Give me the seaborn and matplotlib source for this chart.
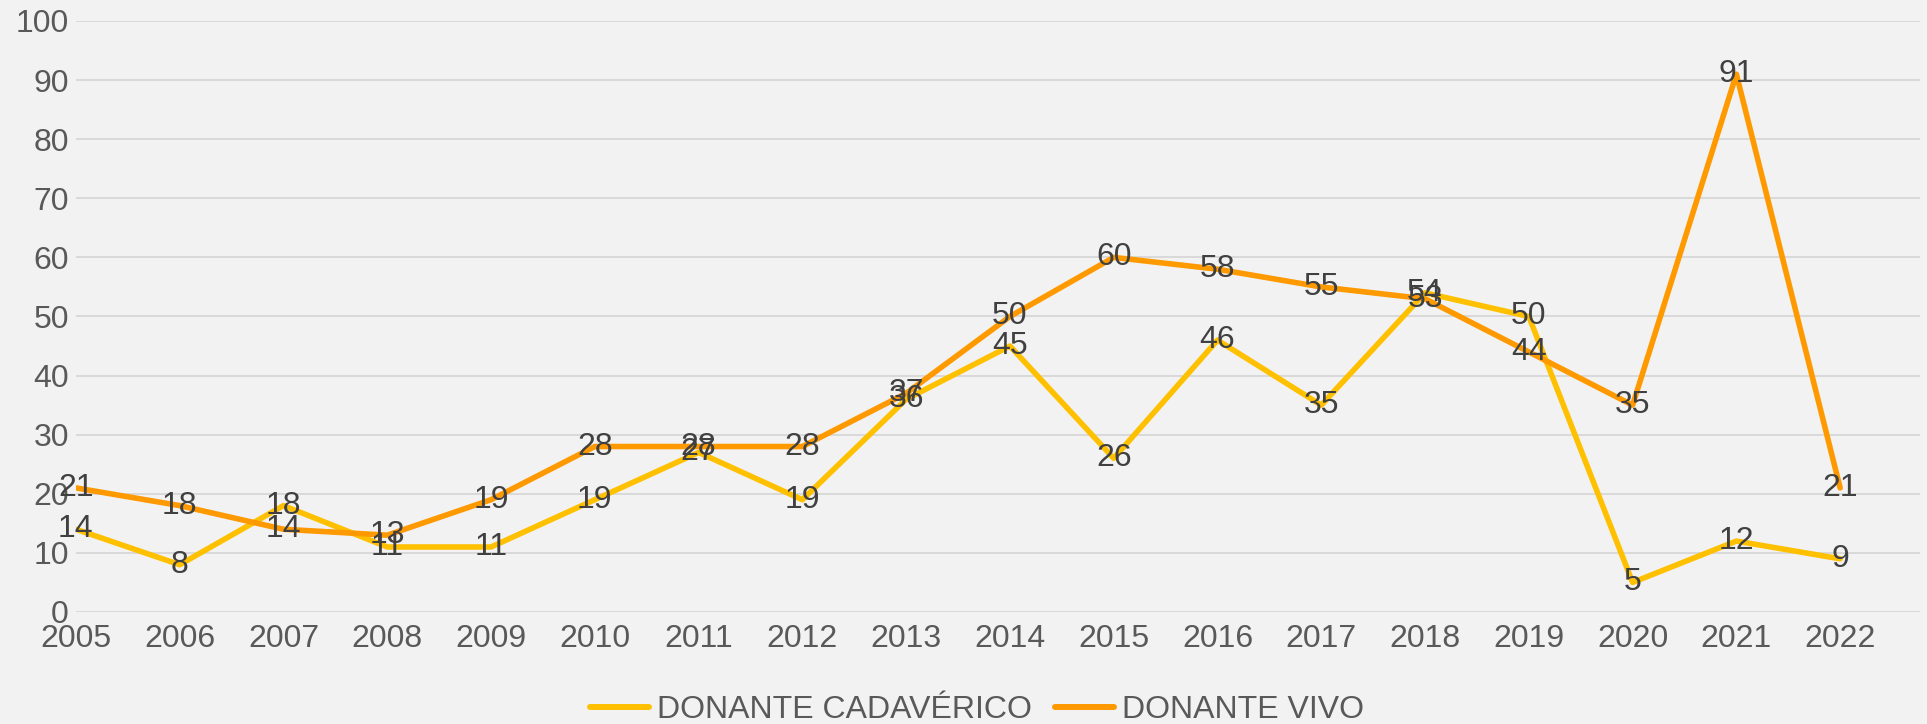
import numpy as np
import pandas as pd
import matplotlib
matplotlib.use('Agg')
import matplotlib.pyplot as plt
import seaborn as sns

years = list(range(2005, 2023))
cadaverico = [14, 8, 18, 11, 11, 19, 27, 19, 36, 45, 26, 46, 35, 54, 50, 5, 12, 9]
vivo = [21, 18, 14, 13, 19, 28, 28, 28, 37, 50, 60, 58, 55, 53, 44, 35, 91, 21]
series_names = ['DONANTE CADAVÉRICO', 'DONANTE VIVO']
colors = ['#FFC000', '#FF9900']

df = pd.DataFrame({
    'year': years * 2,
    'value': cadaverico + vivo,
    'serie': [series_names[0]] * len(years) + [series_names[1]] * len(years),
})

sns.set_style('white')
plt.rcParams['font.family'] = ['Liberation Sans', 'DejaVu Sans']
fs = 23

fig = plt.figure(figsize=(19.27, 7.24), dpi=100, facecolor='#F2F2F2')
ax = fig.add_axes([0.0394, 0.1547, 0.957, 0.8163])
ax.set_facecolor('#F2F2F2')

sns.lineplot(data=df, x='year', y='value', hue='serie', hue_order=series_names,
             palette=colors, linewidth=4.0, ax=ax, legend=True, zorder=3)

# data labels, centred on the points (like excel "center")
for vals in [cadaverico, vivo]:
    for x, v in zip(years, vals):
        ax.text(x, v, str(v), ha='center', va='center', fontsize=fs,
                color='#404040', zorder=5)

ax.set_xlim(2005, 2022.77)
ax.set_ylim(0, 100)
ax.set_yticks(range(0, 101, 10))
ax.set_xticks(years)
ax.set_xticklabels([str(y) for y in years])
ax.tick_params(axis='both', length=0, labelsize=fs, labelcolor='#595959')
ax.tick_params(axis='y', pad=5)
ax.tick_params(axis='x', pad=9)
ax.grid(axis='y', color='#D9D9D9', linewidth=1.4, zorder=0)
ax.set_axisbelow(True)
for s in ax.spines.values():
    s.set_visible(False)
ax.set_xlabel('')
ax.set_ylabel('')

leg = ax.legend(loc='center', bbox_to_anchor=(0.507, 0.019), bbox_transform=fig.transFigure,
                ncol=2, frameon=False, fontsize=fs, handlelength=1.85,
                columnspacing=0.7, handletextpad=0.25)
for t in leg.get_texts():
    t.set_color('#595959')
for h in leg.get_lines():
    h.set_linewidth(4.3)

fig.savefig('out.png', dpi=100, facecolor='#F2F2F2')
